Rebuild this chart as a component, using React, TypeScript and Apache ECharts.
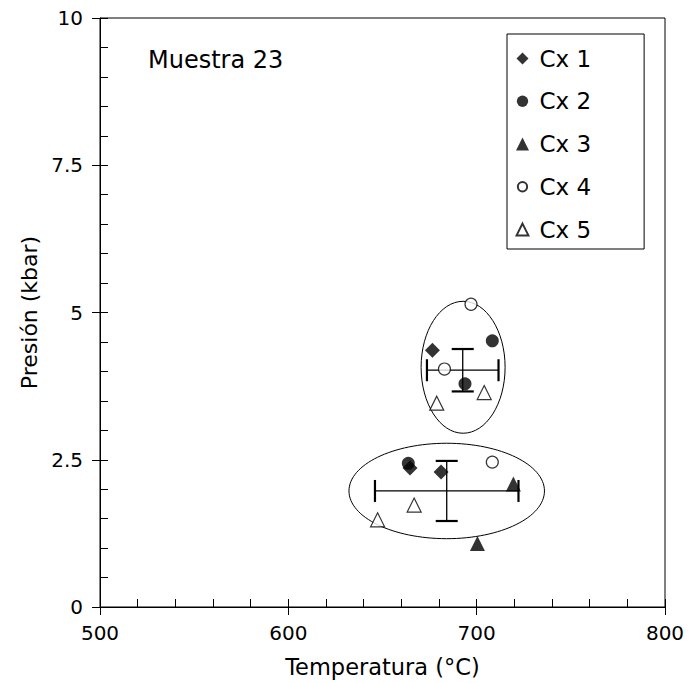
import React, { useEffect, useRef } from "react";
import * as echarts from "echarts";

const cx1T = [676.5, 664.6, 681.1];
const cx1P = [4.36, 2.36, 2.29];
const cx2T = [708.3, 693.8, 663.7];
const cx2P = [4.52, 3.79, 2.44];
const cx3T = [719.5, 700.4];
const cx3P = [2.09, 1.08];
const cx4T = [697.0, 682.9, 708.3];
const cx4P = [5.14, 4.04, 2.46];
const cx5T = [704.0, 678.8, 666.8, 647.4];
const cx5P = [3.64, 3.46, 1.73, 1.48];

// [centre T, centre P, half-width T, half-height P]
const errorCrosses = [
  [692.6, 4.02, 19.0, 0.36],
  [684.1, 1.97, 38.1, 0.51],
];
// [centre T, centre P, radius T, radius P]
const groupEllipses = [
  [692.8, 4.07, 22.3, 1.12],
  [684.1, 1.97, 51.9, 0.81],
];

const xTicks = [500, 600, 700, 800];
const yTicks = [0, 2.5, 5, 7.5, 10];
const legendNames = ["Cx 1", "Cx 2", "Cx 3", "Cx 4", "Cx 5"];

const FONT = "DejaVu Sans";

const zip = (a: number[], b: number[]) => a.map((v, i) => [v, b[i]]);

// legend icons (extra move-to points pad the bounding box so the glyph is drawn smaller)
const ICON_DIAMOND = "path://M-1.08,-1.08M1.08,1.08M0,-1L1,0L0,1L-1,0Z";
const ICON_CIRCLE = "path://M-1.15,-1.15M1.15,1.15M-1,0A1,1 0 1,1 1,0A1,1 0 1,1 -1,0Z";
const ICON_TRI = "path://M-1,-1M1,1M0,-1L1,1L-1,1Z";
const ICON_OCIRCLE = "path://M-1.4,-1.4M1.4,1.4M-1,0A1,1 0 1,1 1,0A1,1 0 1,1 -1,0Z";
const ICON_OTRI = "path://M-1.1,-1.1M1.1,1.1M0,-1L1,1L-1,1Z";

export default function App() {
  const ref = useRef<HTMLDivElement>(null);
  useEffect(() => {
    if (!ref.current) return;
    const chart = echarts.init(ref.current, undefined, { renderer: "svg" });
    const filled = { color: "#000", borderColor: "#000", borderWidth: 0 };
    const open = { color: "#fff", borderColor: "#000", borderWidth: 1.2 };
    const icons = [ICON_DIAMOND, ICON_CIRCLE, ICON_TRI, ICON_OCIRCLE, ICON_OTRI];
    chart.setOption({
      animation: false,
      textStyle: { fontFamily: FONT },
      title: {
        text: "Muestra 23",
        left: 148,
        top: 48,
        padding: 0,
        textStyle: { fontFamily: FONT, fontSize: 24, fontWeight: "normal", color: "#000" },
      },
      legend: {
        orient: "vertical",
        left: 507,
        top: 34,
        padding: [13, 53, 8, 8],
        itemGap: 19.75,
        itemWidth: 24,
        itemHeight: 13,
        symbolKeepAspect: true,
        borderColor: "#000",
        borderWidth: 1,
        textStyle: { fontFamily: FONT, fontSize: 23, color: "#000" },
        data: legendNames.map((n, i) => ({ name: n, icon: icons[i] })),
      },
      grid: {
        left: 100,
        right: 33,
        top: 18,
        bottom: 71,
        show: true,
        borderColor: "#000",
        borderWidth: 1,
        backgroundColor: "transparent",
      },
      xAxis: [
        {
          type: "value",
          position: "bottom",
          min: 500,
          max: 800,
          interval: 100,
          name: "Temperatura (°C)",
          nameLocation: "middle",
          nameGap: 48,
          nameTextStyle: { fontFamily: FONT, fontSize: 22.5, color: "#000" },
          axisLine: { show: true, onZero: false, lineStyle: { color: "#000", width: 1 } },
          axisTick: { show: true, inside: false, length: 8, lineStyle: { color: "#000" } },
          axisLabel: {
            fontFamily: FONT,
            fontSize: 20,
            color: "#000",
            margin: 16,
            formatter: (v: number) => (xTicks.includes(v) ? String(v) : ""),
          },
          splitLine: { show: false },
        },
        {
          type: "value",
          position: "bottom",
          min: 500,
          max: 800,
          interval: 20,
          axisLine: { show: false },
          axisTick: { show: true, inside: true, length: 8, lineStyle: { color: "#000" } },
          axisLabel: { show: false },
          splitLine: { show: false },
        },
      ],
      yAxis: [
        {
          type: "value",
          position: "left",
          min: 0,
          max: 10,
          interval: 2.5,
          name: "Presión (kbar)",
          nameLocation: "middle",
          nameGap: 58,
          nameTextStyle: { fontFamily: FONT, fontSize: 22, color: "#000" },
          axisLine: { show: true, onZero: false, lineStyle: { color: "#000", width: 1 } },
          axisTick: { show: true, inside: false, length: 8, lineStyle: { color: "#000" } },
          axisLabel: {
            fontFamily: FONT,
            fontSize: 20,
            color: "#000",
            margin: 17,
            formatter: (v: number) => (yTicks.includes(v) ? String(v) : ""),
          },
          splitLine: { show: false },
        },
        {
          type: "value",
          position: "left",
          min: 0,
          max: 10,
          interval: 0.5,
          axisLine: { show: false },
          axisTick: { show: true, inside: true, length: 8, lineStyle: { color: "#000" } },
          axisLabel: { show: false },
          splitLine: { show: false },
        },
      ],
      series: [
        {
          type: "custom",
          name: "ellipses",
          xAxisIndex: 0,
          yAxisIndex: 0,
          z: 1,
          silent: true,
          encode: { x: 0, y: 1 },
          data: groupEllipses,
          renderItem: (_p: any, api: any) => {
            const c = api.coord([api.value(0), api.value(1)]);
            const s = api.size([api.value(2), api.value(3)]);
            return {
              type: "ellipse",
              shape: { cx: c[0], cy: c[1], rx: s[0], ry: s[1] },
              style: { fill: "none", stroke: "#000", lineWidth: 1 },
            };
          },
        },
        {
          type: "custom",
          name: "errors",
          xAxisIndex: 0,
          yAxisIndex: 0,
          z: 2,
          silent: true,
          encode: { x: 0, y: 1 },
          data: errorCrosses,
          renderItem: (_p: any, api: any) => {
            const x = api.value(0), y = api.value(1), ex = api.value(2), ey = api.value(3);
            const l = api.coord([x - ex, y]);
            const r = api.coord([x + ex, y]);
            const t = api.coord([x, y + ey]);
            const b = api.coord([x, y - ey]);
            const cap = 11;
            const thin = { stroke: "#000", lineWidth: 1.3 };
            const thick = { stroke: "#000", lineWidth: 2.2 };
            return {
              type: "group",
              children: [
                { type: "line", shape: { x1: l[0], y1: l[1], x2: r[0], y2: r[1] }, style: thin },
                { type: "line", shape: { x1: t[0], y1: t[1], x2: b[0], y2: b[1] }, style: thin },
                { type: "line", shape: { x1: l[0], y1: l[1] - cap, x2: l[0], y2: l[1] + cap }, style: thick },
                { type: "line", shape: { x1: r[0], y1: r[1] - cap, x2: r[0], y2: r[1] + cap }, style: thick },
                { type: "line", shape: { x1: t[0] - cap, y1: t[1], x2: t[0] + cap, y2: t[1] }, style: thick },
                { type: "line", shape: { x1: b[0] - cap, y1: b[1], x2: b[0] + cap, y2: b[1] }, style: thick },
              ],
            };
          },
        },
        {
          type: "scatter",
          name: "Cx 1",
          z: 5,
          symbol: "diamond",
          symbolSize: 15,
          itemStyle: filled,
          data: zip(cx1T, cx1P),
        },
        {
          type: "scatter",
          name: "Cx 2",
          z: 5,
          symbol: "circle",
          symbolSize: 13,
          itemStyle: filled,
          data: zip(cx2T, cx2P),
        },
        {
          type: "scatter",
          name: "Cx 3",
          z: 5,
          symbol: "triangle",
          symbolSize: 15,
          itemStyle: filled,
          data: zip(cx3T, cx3P),
        },
        {
          type: "scatter",
          name: "Cx 4",
          z: 5,
          symbol: "circle",
          symbolSize: 12,
          itemStyle: open,
          data: zip(cx4T, cx4P),
        },
        {
          type: "scatter",
          name: "Cx 5",
          z: 5,
          symbol: "triangle",
          symbolSize: 14,
          itemStyle: open,
          data: zip(cx5T, cx5P),
        },
      ],
    });
    return () => chart.dispose();
  }, []);
  return (
    <div
      ref={ref}
      style={{ position: "absolute", left: 0, top: 0, width: 698, height: 683 }}
    />
  );
}
